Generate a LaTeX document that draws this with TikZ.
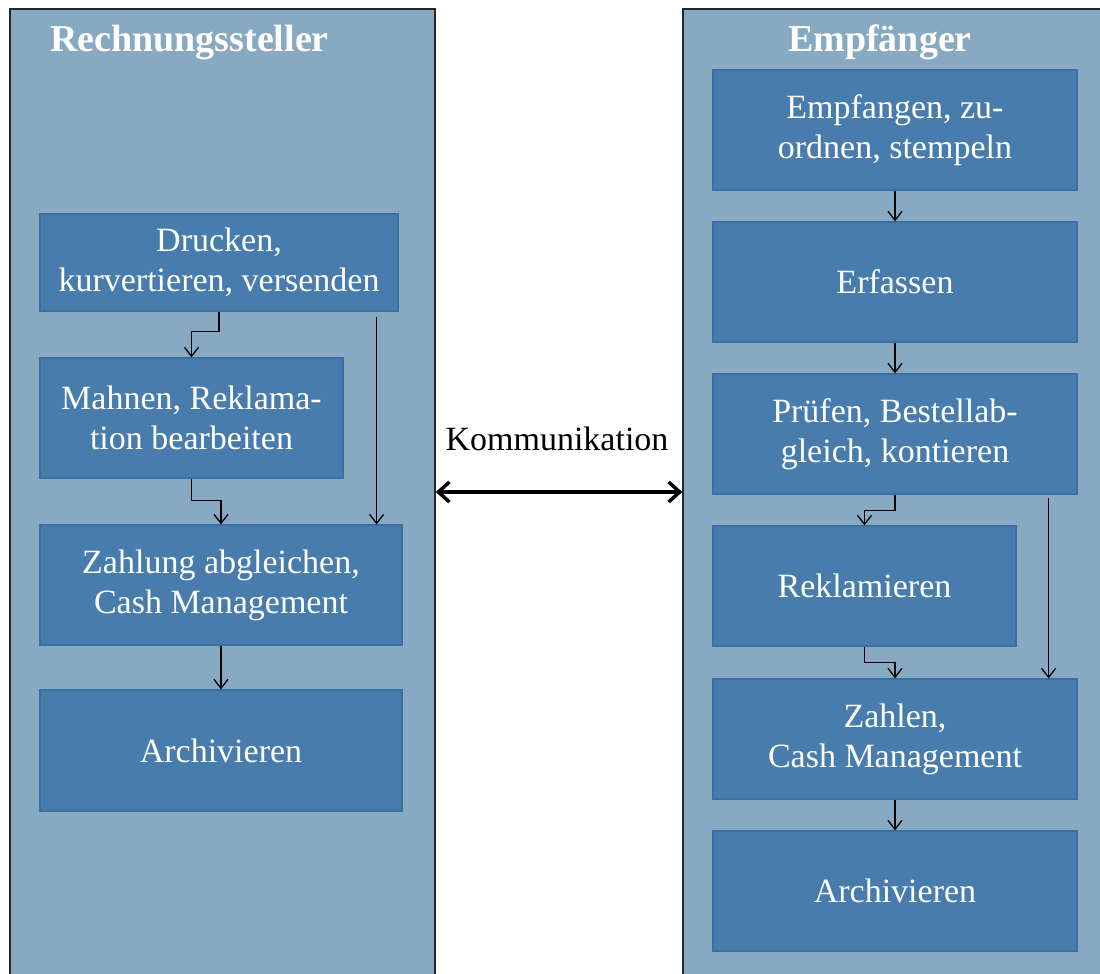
\documentclass[tikz,border=0pt]{standalone}
\usepackage{fontspec}
\setmainfont{Liberation Serif}
\usetikzlibrary{arrows.meta}
\definecolor{contfill}{HTML}{87A9C2}
\definecolor{boxfill}{HTML}{487CAD}
\definecolor{boxline}{HTML}{3A6FA6}
\tikzset{
  container/.style={draw=black!85, line width=1.5pt, fill=contfill, rectangle, inner sep=0pt},
  procbox/.style={draw=boxline, line width=1.2pt, fill=boxfill, rectangle, inner sep=0pt,
    align=center, text=white, font=\fontsize{34}{40}\selectfont},
  title/.style={text=white, font=\fontsize{38}{44}\selectfont\bfseries, inner sep=0pt},
  arr/.style={draw=black, line width=1.3pt, -{Straight Barb[length=9pt,width=14pt]}},
  dbl/.style={draw=black, line width=3.5pt, {Straight Barb[length=11pt,width=20pt]}-{Straight Barb[length=11pt,width=20pt]}}
}
\begin{document}
\begin{tikzpicture}[x=1pt,y=-1pt]
\clip (0,0) rectangle (1100,974);
\fill[white] (0,0) rectangle (1100,974);
% containers
\node[container, minimum width=425pt, minimum height=966pt] (lc) at (222.5,492) {};
\node[container, minimum width=432pt, minimum height=966pt] (rc) at (899,492) {};
\node[title, anchor=base west] (lt) at (50,52) {Rechnungssteller};
\node[title, anchor=base west] (rt) at (788,52) {Empfänger};
% left boxes
\node[procbox, minimum width=358pt, minimum height=97pt] (druck) at (219,262.5) {Drucken,\\kurvertieren, versenden};
\node[procbox, minimum width=303pt, minimum height=120pt] (mahn) at (191.5,418) {Mahnen, Reklama-\\tion bearbeiten};
\node[procbox, minimum width=362pt, minimum height=120pt] (zahl) at (221,585) {Zahlung abgleichen,\\Cash Management};
\node[procbox, minimum width=362pt, minimum height=121pt] (larch) at (221,750.5) {Archivieren};
% right boxes
\node[procbox, minimum width=364pt, minimum height=120pt] (empf) at (895,130) {Empfangen, zu-\\ordnen, stempeln};
\node[procbox, minimum width=364pt, minimum height=120pt] (erf) at (895,282) {Erfassen};
\node[procbox, minimum width=364pt, minimum height=120pt] (pruef) at (895,434) {Prüfen, Bestellab-\\gleich, kontieren};
\node[procbox, minimum width=303pt, minimum height=120pt] (rekl) at (864.5,586) {Reklamieren};
\node[procbox, minimum width=364pt, minimum height=120pt] (zahlen) at (895,739) {Zahlen,\\Cash Management};
\node[procbox, minimum width=364pt, minimum height=120pt] (rarch) at (895,891) {Archivieren};
% communication
\node[anchor=base, inner sep=0pt, font=\fontsize{34}{40}\selectfont] (komm) at (557,450) {Kommunikation};
\draw[dbl] (lc.east) -- (rc.west);
% left arrows
\draw[arr] (druck.south) -- ++(0,20) -| (mahn.north);
\coordinate (ls) at ([shift={(-22,5)}]druck.south east);
\draw[arr] (ls) -- (ls |- zahl.north);
\draw[arr] (mahn.south) -- ++(0,22) -| (zahl.north);
\draw[arr] (zahl.south) -- (larch.north);
% right arrows
\draw[arr] (empf.south) -- (erf.north);
\draw[arr] (erf.south) -- (pruef.north);
\draw[arr] (pruef.south) -- ++(0,16) -| (rekl.north);
\coordinate (rs) at ([shift={(-29,3)}]pruef.south east);
\draw[arr] (rs) -- (rs |- zahlen.north);
\draw[arr] (rekl.south) -- ++(0,16) -| (zahlen.north);
\draw[arr] (zahlen.south) -- (rarch.north);
\end{tikzpicture}
\end{document}
